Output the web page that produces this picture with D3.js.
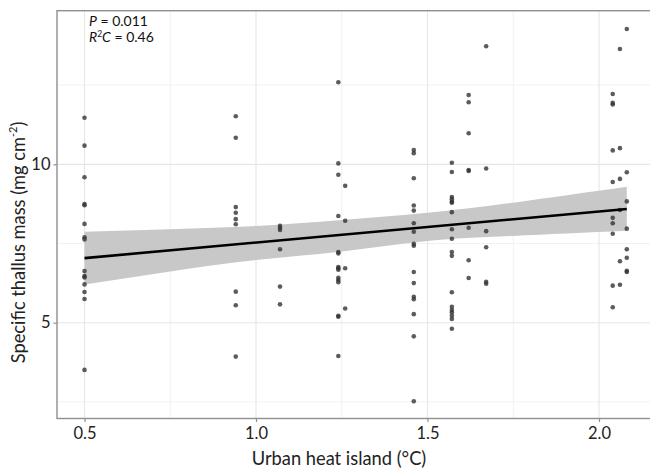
<!DOCTYPE html>
<html>
<head>
<meta charset="utf-8">
<script src="https://cdn.jsdelivr.net/npm/d3@7"></script>
<style>
  body { margin: 0; background: #fff; }
  svg text { font-family: Lato, "Open Sans", sans-serif; }
</style>
</head>
<body>
<div id="viz-container"></div>
<script>
// site urban heat island values (°C)
let uhi = [0.5, 0.941, 1.07, 1.24, 1.26, 1.46, 1.571, 1.62, 1.671, 2.04, 2.061, 2.081];
// specific thallus mass (mg cm-2) measured at each site
let mass = [
  [11.47, 10.59, 9.59, 8.75, 8.71, 8.12, 7.70, 7.63, 6.63, 6.47, 6.43, 6.21, 5.97, 5.75, 3.51],
  [11.52, 10.84, 8.65, 8.47, 8.27, 8.11, 5.98, 5.55, 3.93],
  [8.06, 8.00, 7.93, 7.32, 6.14, 5.58],
  [12.59, 10.03, 9.67, 8.37, 7.23, 7.19, 6.76, 6.72, 6.67, 6.42, 6.35, 6.28, 5.22, 5.19, 3.95],
  [9.32, 8.22, 6.72, 5.45],
  [10.45, 10.35, 9.56, 8.70, 8.54, 8.14, 7.87, 7.49, 7.43, 6.60, 6.25, 5.82, 5.74, 5.27, 4.57, 2.52],
  [10.05, 9.76, 8.97, 8.90, 8.82, 8.79, 8.49, 7.95, 7.65, 7.23, 7.11, 5.96, 5.50, 5.40, 5.33, 5.23, 5.12, 4.81],
  [12.19, 11.96, 10.98, 9.82, 9.79, 8.00, 6.97, 6.41],
  [13.73, 9.87, 7.89, 7.38, 6.29, 6.23],
  [12.22, 11.94, 11.89, 10.44, 9.44, 8.31, 8.14, 7.81, 6.17, 5.49],
  [13.64, 10.51, 9.54, 8.56, 6.94, 6.20],
  [14.27, 9.75, 8.83, 7.97, 7.32, 7.05, 6.64, 6.60]
];
// fitted line and its confidence band
let fitX = [0.5, 2.081];
let fitY = [7.04, 8.59];
let bandX = [0.5, 0.75, 1.0, 1.25, 1.5, 1.75, 2.081];
let bandLo = [6.21, 6.62, 6.98, 7.25, 7.58, 7.74, 7.90];
let bandHi = [7.87, 7.95, 8.05, 8.24, 8.47, 8.79, 9.29];

let xMajor = [0.5, 1.0, 1.5, 2.0];
let xMinor = [0.75, 1.25, 1.75];
let yMajor = [5, 10];
let yMinor = [2.5, 7.5, 12.5];

let w = 650;
let h = 470;
let pLeft = 57, pRight = 653, pTop = 10.7, pBottom = 418.5;

let points = [];
uhi.forEach(function(u, i){
  mass[i].forEach(function(m){ points.push({x: u, y: m}); });
});

let viz = d3.select("#viz-container")
  .append("svg")
  .attr("width", w)
  .attr("height", h);

let xScale = d3.scaleLinear().domain([0.4198, 2.1574]).range([pLeft, pRight]);
let yScale = d3.scaleLinear().domain([1.976, 14.85]).range([pBottom, pTop]);

// grid
let grid = viz.append("g");
grid.selectAll(".xminor").data(xMinor).enter().append("line")
  .attr("x1", d => xScale(d)).attr("x2", d => xScale(d))
  .attr("y1", pTop).attr("y2", pBottom)
  .attr("stroke", "#f1f1f1").attr("stroke-width", 1);
grid.selectAll(".yminor").data(yMinor).enter().append("line")
  .attr("x1", pLeft).attr("x2", pRight)
  .attr("y1", d => yScale(d)).attr("y2", d => yScale(d))
  .attr("stroke", "#f1f1f1").attr("stroke-width", 1);
grid.selectAll(".xmajor").data(xMajor).enter().append("line")
  .attr("x1", d => xScale(d)).attr("x2", d => xScale(d))
  .attr("y1", pTop).attr("y2", pBottom)
  .attr("stroke", "#e6e6e6").attr("stroke-width", 1.1);
grid.selectAll(".ymajor").data(yMajor).enter().append("line")
  .attr("x1", pLeft).attr("x2", pRight)
  .attr("y1", d => yScale(d)).attr("y2", d => yScale(d))
  .attr("stroke", "#e6e6e6").attr("stroke-width", 1.1);

// confidence band
let band = d3.area()
  .x((d, i) => xScale(bandX[i]))
  .y0((d, i) => yScale(bandLo[i]))
  .y1((d, i) => yScale(bandHi[i]))
  .curve(d3.curveNatural);
viz.append("path")
  .datum(bandX)
  .attr("d", band)
  .attr("fill", "#c8c8c8");

// points
viz.selectAll(".pt").data(points).enter().append("circle")
  .attr("cx", d => xScale(d.x))
  .attr("cy", d => yScale(d.y))
  .attr("r", 2.3)
  .attr("fill", "#333")
  .attr("fill-opacity", 0.8);

// fit line
let line = d3.line()
  .x((d, i) => xScale(fitX[i]))
  .y(d => yScale(d));
viz.append("path")
  .datum(fitY)
  .attr("d", line)
  .attr("fill", "none")
  .attr("stroke", "#000")
  .attr("stroke-width", 2.6);

// panel border
viz.append("rect")
  .attr("x", pLeft).attr("y", pTop)
  .attr("width", pRight - pLeft).attr("height", pBottom - pTop)
  .attr("fill", "none")
  .attr("stroke", "#8f8f8f")
  .attr("stroke-width", 1.4);

// axes
let xAxis = d3.axisBottom(xScale).tickValues(xMajor).tickSize(3.5).tickPadding(5)
  .tickFormat(d3.format(".1f"));
let xAxisGroup = viz.append("g")
  .attr("transform", "translate(0," + pBottom + ")")
  .call(xAxis);
let yAxis = d3.axisLeft(yScale).tickValues(yMajor).tickSize(3.5).tickPadding(3)
  .tickFormat(d3.format("d"));
let yAxisGroup = viz.append("g")
  .attr("transform", "translate(" + pLeft + ",0)")
  .call(yAxis);
[xAxisGroup, yAxisGroup].forEach(function(g){
  g.select(".domain").remove();
  g.selectAll(".tick line").attr("stroke", "#8f8f8f").attr("stroke-width", 1.2);
  g.selectAll(".tick text").attr("fill", "#222").attr("font-size", "16.5px");
});

// axis titles
viz.append("text")
  .attr("x", 339).attr("y", 465)
  .attr("text-anchor", "middle")
  .attr("font-size", "18.3px")
  .attr("fill", "#222")
  .text("Urban heat island (°C)");

let yLabel = viz.append("text")
  .attr("transform", "translate(25,242.5) rotate(-90)")
  .attr("text-anchor", "middle")
  .attr("font-size", "18.3px")
  .attr("fill", "#222");
yLabel.append("tspan").text("Specific thallus mass (mg cm");
yLabel.append("tspan").attr("font-size", "11px").attr("dy", -8).text("-2");
yLabel.append("tspan").attr("dy", 8).text(")");

// stats annotation
let ann = viz.append("g").attr("font-size", "14px").attr("fill", "#111");
let t1 = ann.append("text").attr("x", 89).attr("y", 26);
t1.append("tspan").attr("font-style", "italic").text("P");
t1.append("tspan").text(" = 0.011");
let t2 = ann.append("text").attr("x", 89).attr("y", 42);
t2.append("tspan").attr("font-style", "italic").text("R");
t2.append("tspan").attr("font-size", "8.5px").attr("dy", -5).text("2");
t2.append("tspan").attr("font-style", "italic").attr("dy", 5).text("C");
t2.append("tspan").text(" = 0.46");
</script>
</body>
</html>
